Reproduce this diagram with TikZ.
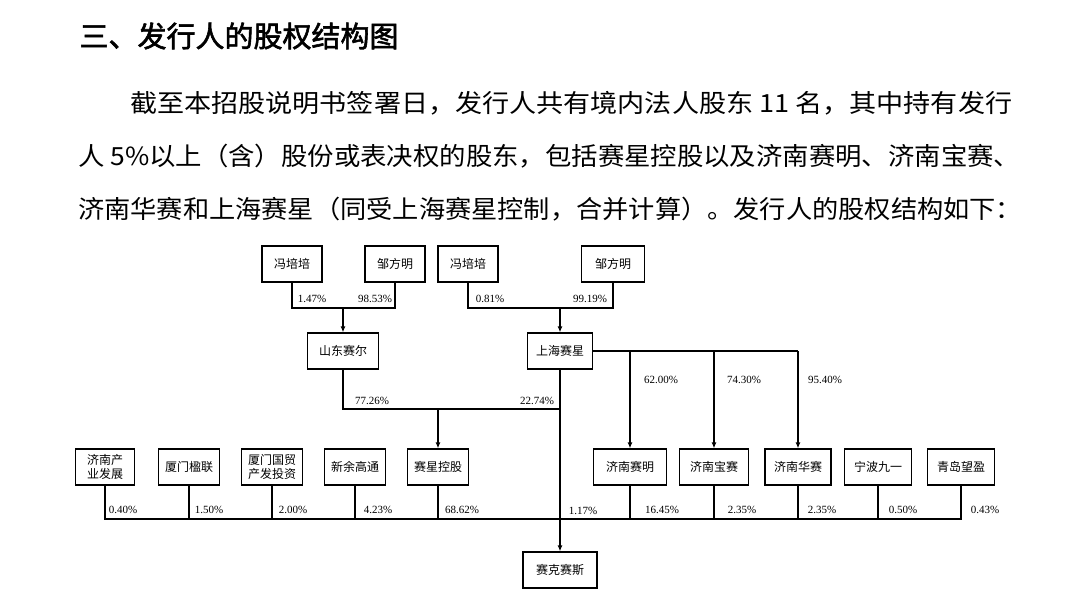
\documentclass[tikz,border=0pt]{standalone}
\usepackage{fontspec}
\usepackage{graphicx}
\setmainfont{Liberation Serif}
\newfontfamily\cjk{Noto Sans CJK SC}
\newfontfamily\cjkhead[FakeBold=2]{Noto Sans CJK SC}
\usetikzlibrary{arrows.meta,positioning}
\tikzset{holder/.style={draw,line width=1.2pt,font=\cjk\fontsize{12}{14}\selectfont,minimum height=36pt,inner sep=2pt,align=center},
pct/.style={font=\fontsize{11}{12}\selectfont,inner sep=0pt},
textline/.style={anchor=west,font=\cjk\fontsize{25}{30}\selectfont,inner sep=0pt},
link/.style={line width=1.2pt},
stake/.style={line width=1.2pt,-{Latex[length=6pt,width=5pt]}}}

\begin{document}
\begin{tikzpicture}[x=1pt,y=-1pt]
\useasboundingbox (0,0) rectangle (1080,607);

% Text
\node[anchor=west,font=\cjkhead\fontsize{29}{32}\selectfont] (title) at (76,36) {三、发行人的股权结构图};
\node[textline] (line1) at (130,103) {\resizebox{882pt}{\height}{截至本招股说明书签署日，发行人共有境内法人股东 11 名，其中持有发行}};
\node[textline] (line2) at (78,156) {\resizebox{942pt}{\height}{人 5\%以上（含）股份或表决权的股东，包括赛星控股以及济南赛明、济南宝赛、}};
\node[textline] (line3) at (78,209) {\resizebox{944pt}{\height}{济南华赛和上海赛星（同受上海赛星控制，合并计算）。发行人的股权结构如下：}};

% Holders
\node[holder,minimum width=60pt] (fpp1) at (292,264) {冯培培};
\node[holder,minimum width=60pt] (zfm1) at (395,264) {邹方明};
\node[holder,minimum width=60pt] (fpp2) at (468,264) {冯培培};
\node[holder,minimum width=63pt] (zfm2) at (613,264) {邹方明};
\node[holder,minimum width=71pt] (sdse) at (343,351) {山东赛尔};
\node[holder,minimum width=65pt] (shsx) at (560,351) {上海赛星};
\node[holder,minimum width=59pt] (jncy) at (105,467) {济南产\\业发展};
\node[holder,minimum width=61pt] (xmyl) at (189,467) {厦门楹联};
\node[holder,minimum width=61pt] (xmgm) at (272,467) {厦门国贸\\产发投资};
\node[holder,minimum width=61pt] (xygt) at (355,467) {新余高通};
\node[holder,minimum width=61pt] (sxkg) at (438,467) {赛星控股};
\node[holder,minimum width=73pt] (jnsm) at (630,467) {济南赛明};
\node[holder,minimum width=69pt] (jnbs) at (714,467) {济南宝赛};
\node[holder,minimum width=66pt] (jnhs) at (798,467) {济南华赛};
\node[holder,minimum width=67pt] (nbjy) at (878,467) {宁波九一};
\node[holder,minimum width=67pt] (qdwy) at (961,467) {青岛望盈};
\node[holder,minimum width=74pt] (skss) at (560,570) {赛克赛斯};

% Joints
\coordinate (top1) at (343,308);
\coordinate (top2) at (560,308);
\coordinate (mid) at (438,409);
\coordinate (bus) at (561,519);

% Links
\draw[link] (fpp1.south) |- (zfm1.south |- top1) -- (zfm1.south);
\draw[link] (fpp2.south) |- (zfm2.south |- top2) -- (zfm2.south);
\draw[stake] (top1) -- (sdse.north);
\draw[stake] (top2) -- (shsx.north);
\draw[link] (sdse.south) |- (shsx.south |- mid);
\draw[stake] (mid) -- (sxkg.north);
\draw[link] (shsx.east) -- (jnhs.north |- shsx.east);
\foreach \n in {jnsm,jnbs,jnhs} \draw[stake] (\n.north |- shsx.east) -- (\n.north);
\draw[link] (jncy.south) |- (qdwy.south |- bus) -- (qdwy.south);
\foreach \n in {xmyl,xmgm,xygt,sxkg,jnsm,jnbs,jnhs,nbjy} \draw[link] (\n.south) -- (\n.south |- bus);
\draw[stake] (shsx.south) -- (skss.north);

% Shares
\foreach \x/\y/\t [count=\i] in {312/299/1.47,375/299/98.53,490/299/0.81,590/299/99.19,372/401/77.26,537/401/22.74,661/380/62.00,744/380/74.30,825/380/95.40,
123/510/0.40,209/510/1.50,293/510/2.00,378/510/4.23,462/510/68.62,583/511/1.17,662/510/16.45,742/510/2.35,822/510/2.35,903/510/0.50,985/510/0.43}
  \node[pct] (share\i) at (\x,\y) {\t\%};

\end{tikzpicture}
\end{document}
